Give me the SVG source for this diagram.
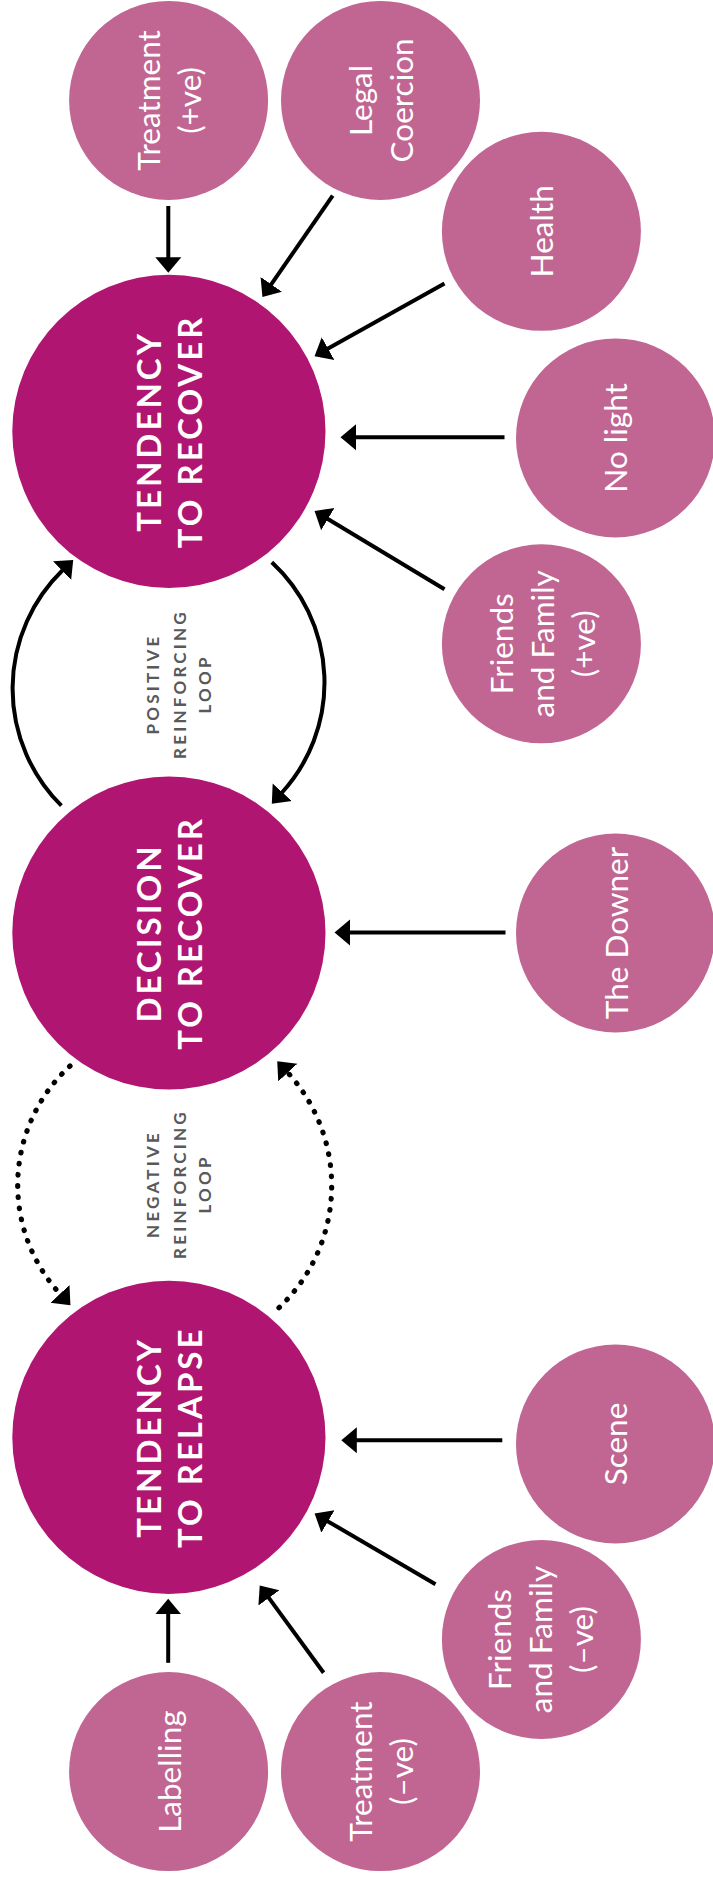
<svg xmlns="http://www.w3.org/2000/svg" width="713" height="1879" viewBox="0 0 713 1879">
<style>
.hub{fill:#AF1571}
.leaf{fill:#C16592}
.hubt{font-family:Lato,'Open Sans',sans-serif;font-weight:700;font-size:33px;fill:#fff;letter-spacing:3px;text-anchor:middle}
.leaft{font-family:Lato,'Open Sans',sans-serif;font-weight:400;font-size:31.5px;fill:#fff;text-anchor:middle}
.loopt{font-family:Lato,'Open Sans',sans-serif;font-weight:700;font-size:17px;fill:#58595B;letter-spacing:3.2px;text-anchor:middle}
.arr{stroke:#000;stroke-width:4;fill:none;marker-end:url(#ah)}
.dot{stroke-dasharray:0.6 10.6;stroke-linecap:round;stroke-width:5.2}
</style>
<defs>
<marker id="ah" markerUnits="userSpaceOnUse" markerWidth="17" markerHeight="28" viewBox="0 -14 17 28" refX="1" refY="0" orient="auto"><path d="M0,-13 L15.5,0 L0,13 z" fill="#000"/></marker>
</defs>
<rect width="713" height="1879" fill="#fff"/>
<g id="connectors">
<line class="arr" x1="168.3" y1="206" x2="168.3" y2="258.3"/>
<line class="arr" x1="332.7" y1="195.7" x2="270.7" y2="285.1"/>
<line class="arr" x1="444.5" y1="283.5" x2="327.2" y2="349.1"/>
<line class="arr" x1="504.5" y1="437.3" x2="355" y2="437.3"/>
<line class="arr" x1="444.5" y1="589.2" x2="327" y2="518.5"/>
<line class="arr" x1="505.5" y1="932.6" x2="349" y2="932.6"/>
<line class="arr" x1="502.3" y1="1440.3" x2="355.8" y2="1440.3"/>
<line class="arr" x1="435.5" y1="1584.3" x2="327.1" y2="1520.9"/>
<line class="arr" x1="323.6" y1="1672.8" x2="268.3" y2="1597.1"/>
<line class="arr" x1="168.2" y1="1662.8" x2="168.2" y2="1613.3"/>
<path class="arr" d="M61.4,805.7 A165,165 0 0 1 62.8,570.0"/>
<path class="arr" d="M271.8,562.3 A163.6,163.6 0 0 1 281.6,793.0"/>
<path class="arr dot" d="M70,1066 A161.5,161.5 0 0 0 60.6,1294.6"/>
<path class="arr dot" d="M279,1307.7 A167.6,167.6 0 0 0 287.1,1071.9"/>
</g>
<g id="n-treatment-pos"><circle class="leaf" cx="168.6" cy="100.4" r="99.5"/>
<text class="leaft" transform="translate(168.6,100.4) rotate(-90)"><tspan x="0" y="-9">Treatment</tspan><tspan x="0" y="32">(+ve)</tspan></text></g>
<g id="n-legal"><circle class="leaf" cx="380.5" cy="100.4" r="99.5"/>
<text class="leaft" transform="translate(380.5,100.4) rotate(-90)"><tspan x="0" y="-9">Legal</tspan><tspan x="0" y="32">Coercion</tspan></text></g>
<g id="n-health"><circle class="leaf" cx="541.4" cy="231.3" r="99.5"/>
<text class="leaft" transform="translate(541.4,231.3) rotate(-90)"><tspan x="0" y="11.5">Health</tspan></text></g>
<g id="n-nolight"><circle class="leaf" cx="615.5" cy="437.9" r="99.5"/>
<text class="leaft" transform="translate(615.5,437.9) rotate(-90)"><tspan x="0" y="11.5">No light</tspan></text></g>
<g id="n-friends-pos"><circle class="leaf" cx="541.4" cy="643.8" r="99.5"/>
<text class="leaft" transform="translate(541.4,643.8) rotate(-90)"><tspan x="0" y="-28">Friends</tspan><tspan x="0" y="13">and Family</tspan><tspan x="0" y="54">(+ve)</tspan></text></g>
<g id="n-recover"><circle class="hub" cx="168.9" cy="431.4" r="156.6"/>
<text class="hubt" transform="translate(168.9,431.4) rotate(-90)"><tspan x="0" y="-8">TENDENCY</tspan><tspan x="0" y="33">TO RECOVER</tspan></text></g>
<g id="n-decision"><circle class="hub" cx="168.9" cy="933" r="156.6"/>
<text class="hubt" transform="translate(168.9,933) rotate(-90)"><tspan x="0" y="-8">DECISION</tspan><tspan x="0" y="33">TO RECOVER</tspan></text></g>
<g id="n-downer"><circle class="leaf" cx="615.5" cy="933" r="99.5"/>
<text class="leaft" transform="translate(615.5,933) rotate(-90)"><tspan x="0" y="12">The Downer</tspan></text></g>
<g id="n-relapse"><circle class="hub" cx="168.9" cy="1437.3" r="156.6"/>
<text class="hubt" transform="translate(168.9,1437.3) rotate(-90)"><tspan x="0" y="-8">TENDENCY</tspan><tspan x="0" y="33">TO RELAPSE</tspan></text></g>
<g id="n-scene"><circle class="leaf" cx="615.5" cy="1444" r="99.5"/>
<text class="leaft" transform="translate(615.5,1444) rotate(-90)"><tspan x="0" y="11">Scene</tspan></text></g>
<g id="n-friends-neg"><circle class="leaf" cx="541.4" cy="1639.5" r="99.5"/>
<text class="leaft" transform="translate(541.4,1639.5) rotate(-90)"><tspan x="0" y="-30">Friends</tspan><tspan x="0" y="11">and Family</tspan><tspan x="0" y="52">(–ve)</tspan></text></g>
<g id="n-treatment-neg"><circle class="leaf" cx="380.5" cy="1771.6" r="99.5"/>
<text class="leaft" transform="translate(380.5,1771.6) rotate(-90)"><tspan x="0" y="-9">Treatment</tspan><tspan x="0" y="32">(–ve)</tspan></text></g>
<g id="n-labelling"><circle class="leaf" cx="168.6" cy="1771.6" r="99.5"/>
<text class="leaft" transform="translate(168.6,1771.6) rotate(-90)"><tspan x="0" y="12">Labelling</tspan></text></g>
<g id="loop-positive"><text class="loopt" transform="translate(0,684) rotate(-90)"><tspan x="0" y="159">POSITIVE</tspan><tspan x="0" y="185.5">REINFORCING</tspan><tspan x="0" y="211">LOOP</tspan></text></g>
<g id="loop-negative"><text class="loopt" transform="translate(0,1184) rotate(-90)"><tspan x="0" y="159">NEGATIVE</tspan><tspan x="0" y="185.5">REINFORCING</tspan><tspan x="0" y="211">LOOP</tspan></text></g>
</svg>
